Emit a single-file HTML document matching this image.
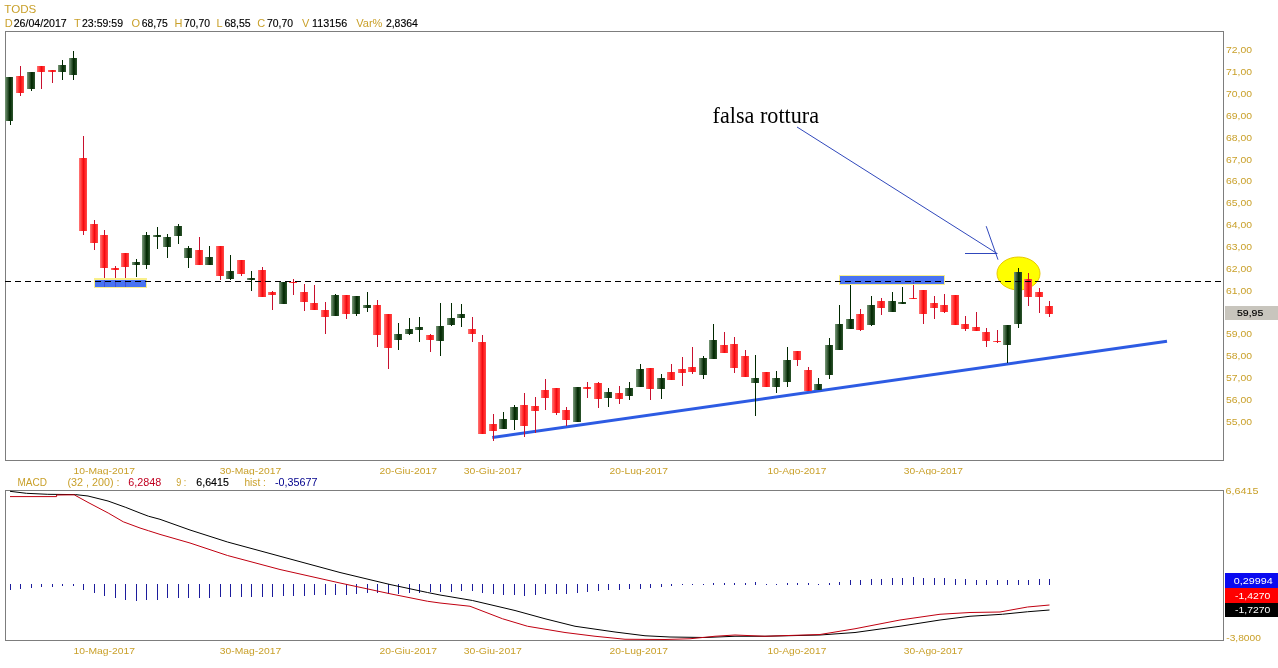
<!DOCTYPE html>
<html lang="it"><head><meta charset="utf-8"><title>TODS</title>
<style>
html,body{margin:0;padding:0;background:#fff;}
body{width:1278px;height:668px;overflow:hidden;position:relative;font-family:"Liberation Sans",Arial,sans-serif;}
svg{position:absolute;left:0;top:0;display:block}
text{font-family:"Liberation Sans",Arial,sans-serif;}
.g{fill:#c9a02a}
.k{fill:#000;stroke:#000;stroke-width:.15px}
.t11{font-size:11px}
.t10{font-size:9.6px}
</style></head><body>
<svg width="1278" height="668" viewBox="0 0 1278 668">
<defs>
<linearGradient id="gg" x1="0" y1="0" x2="1" y2="0">
<stop offset="0" stop-color="#7c9c7c"/><stop offset="0.6" stop-color="#002600"/><stop offset="1" stop-color="#2e562e"/>
</linearGradient>
<linearGradient id="rg" x1="0" y1="0" x2="1" y2="0">
<stop offset="0" stop-color="#ff7878"/><stop offset="0.55" stop-color="#ff0808"/><stop offset="1" stop-color="#ff4a4a"/>
</linearGradient>
</defs>
<rect x="0" y="0" width="1278" height="668" fill="#fff"/>

<g shape-rendering="crispEdges" fill="none" stroke="#7d7d7d" stroke-width="1">
<rect x="5.5" y="31.5" width="1218" height="429"/>
<rect x="5.5" y="490.5" width="1218" height="150"/>
</g>
<ellipse cx="1018.5" cy="273.5" rx="21.5" ry="16.5" fill="#ffff00" stroke="#e8c800" stroke-width="1"/>
<line x1="492.3" y1="437.6" x2="1167" y2="341.2" stroke="#2d5be3" stroke-width="3"/>
<g shape-rendering="crispEdges">
<rect x="10" y="77" width="1" height="48" fill="#002800"/>
<rect x="5" y="77" width="8" height="44" fill="url(#gg)"/>
<rect x="10" y="77" width="1" height="44" fill="#002800" fill-opacity="0.3"/>
<rect x="20" y="66" width="1" height="30" fill="#c8102e"/>
<rect x="16" y="76" width="8" height="17" fill="url(#rg)"/>
<rect x="20" y="76" width="1" height="17" fill="#c8102e" fill-opacity="0.3"/>
<rect x="31" y="72" width="1" height="19" fill="#002800"/>
<rect x="27" y="72" width="8" height="17" fill="url(#gg)"/>
<rect x="31" y="72" width="1" height="17" fill="#002800" fill-opacity="0.3"/>
<rect x="41" y="66" width="1" height="23" fill="#c8102e"/>
<rect x="37" y="66" width="8" height="6" fill="url(#rg)"/>
<rect x="41" y="66" width="1" height="6" fill="#c8102e" fill-opacity="0.3"/>
<rect x="52" y="70" width="1" height="13" fill="#c8102e"/>
<rect x="48" y="70" width="8" height="2" fill="url(#rg)"/>
<rect x="52" y="70" width="1" height="2" fill="#c8102e" fill-opacity="0.3"/>
<rect x="62" y="60" width="1" height="20" fill="#002800"/>
<rect x="58" y="65" width="8" height="7" fill="url(#gg)"/>
<rect x="62" y="65" width="1" height="7" fill="#002800" fill-opacity="0.3"/>
<rect x="73" y="51" width="1" height="29" fill="#002800"/>
<rect x="69" y="58" width="8" height="17" fill="url(#gg)"/>
<rect x="73" y="58" width="1" height="17" fill="#002800" fill-opacity="0.3"/>
<rect x="83" y="136" width="1" height="99" fill="#c8102e"/>
<rect x="79" y="158" width="8" height="73" fill="url(#rg)"/>
<rect x="83" y="158" width="1" height="73" fill="#c8102e" fill-opacity="0.3"/>
<rect x="94" y="220" width="1" height="30" fill="#c8102e"/>
<rect x="90" y="224" width="8" height="19" fill="url(#rg)"/>
<rect x="94" y="224" width="1" height="19" fill="#c8102e" fill-opacity="0.3"/>
<rect x="104" y="230" width="1" height="57" fill="#c8102e"/>
<rect x="100" y="235" width="8" height="33" fill="url(#rg)"/>
<rect x="104" y="235" width="1" height="33" fill="#c8102e" fill-opacity="0.3"/>
<rect x="115" y="266" width="1" height="21" fill="#c8102e"/>
<rect x="111" y="268" width="8" height="2" fill="url(#rg)"/>
<rect x="115" y="268" width="1" height="2" fill="#c8102e" fill-opacity="0.3"/>
<rect x="125" y="253" width="1" height="34" fill="#c8102e"/>
<rect x="121" y="253" width="8" height="14" fill="url(#rg)"/>
<rect x="125" y="253" width="1" height="14" fill="#c8102e" fill-opacity="0.3"/>
<rect x="136" y="259" width="1" height="18" fill="#002800"/>
<rect x="132" y="262" width="8" height="3" fill="url(#gg)"/>
<rect x="136" y="262" width="1" height="3" fill="#002800" fill-opacity="0.3"/>
<rect x="146" y="232" width="1" height="37" fill="#002800"/>
<rect x="142" y="235" width="8" height="30" fill="url(#gg)"/>
<rect x="146" y="235" width="1" height="30" fill="#002800" fill-opacity="0.3"/>
<rect x="157" y="227" width="1" height="22" fill="#002800"/>
<rect x="153" y="235" width="8" height="2" fill="url(#gg)"/>
<rect x="157" y="235" width="1" height="2" fill="#002800" fill-opacity="0.3"/>
<rect x="167" y="234" width="1" height="24" fill="#002800"/>
<rect x="163" y="237" width="8" height="10" fill="url(#gg)"/>
<rect x="167" y="237" width="1" height="10" fill="#002800" fill-opacity="0.3"/>
<rect x="178" y="224" width="1" height="20" fill="#002800"/>
<rect x="174" y="226" width="8" height="10" fill="url(#gg)"/>
<rect x="178" y="226" width="1" height="10" fill="#002800" fill-opacity="0.3"/>
<rect x="188" y="246" width="1" height="22" fill="#002800"/>
<rect x="184" y="248" width="8" height="10" fill="url(#gg)"/>
<rect x="188" y="248" width="1" height="10" fill="#002800" fill-opacity="0.3"/>
<rect x="199" y="237" width="1" height="28" fill="#c8102e"/>
<rect x="195" y="250" width="8" height="15" fill="url(#rg)"/>
<rect x="199" y="250" width="1" height="15" fill="#c8102e" fill-opacity="0.3"/>
<rect x="209" y="246" width="1" height="19" fill="#002800"/>
<rect x="205" y="257" width="8" height="8" fill="url(#gg)"/>
<rect x="209" y="257" width="1" height="8" fill="#002800" fill-opacity="0.3"/>
<rect x="220" y="246" width="1" height="34" fill="#c8102e"/>
<rect x="216" y="246" width="8" height="30" fill="url(#rg)"/>
<rect x="220" y="246" width="1" height="30" fill="#c8102e" fill-opacity="0.3"/>
<rect x="230" y="255" width="1" height="25" fill="#002800"/>
<rect x="226" y="271" width="8" height="8" fill="url(#gg)"/>
<rect x="230" y="271" width="1" height="8" fill="#002800" fill-opacity="0.3"/>
<rect x="241" y="260" width="1" height="16" fill="#c8102e"/>
<rect x="237" y="260" width="8" height="14" fill="url(#rg)"/>
<rect x="241" y="260" width="1" height="14" fill="#c8102e" fill-opacity="0.3"/>
<rect x="251" y="271" width="1" height="20" fill="#002800"/>
<rect x="247" y="278" width="8" height="2" fill="url(#gg)"/>
<rect x="251" y="278" width="1" height="2" fill="#002800" fill-opacity="0.3"/>
<rect x="262" y="267" width="1" height="30" fill="#c8102e"/>
<rect x="258" y="270" width="8" height="27" fill="url(#rg)"/>
<rect x="262" y="270" width="1" height="27" fill="#c8102e" fill-opacity="0.3"/>
<rect x="272" y="291" width="1" height="19" fill="#c8102e"/>
<rect x="268" y="292" width="8" height="3" fill="url(#rg)"/>
<rect x="272" y="292" width="1" height="3" fill="#c8102e" fill-opacity="0.3"/>
<rect x="279" y="282" width="8" height="22" fill="url(#gg)"/>
<rect x="293" y="279" width="1" height="16" fill="#c8102e"/>
<rect x="289" y="282" width="8" height="1" fill="url(#rg)"/>
<rect x="293" y="282" width="1" height="1" fill="#c8102e" fill-opacity="0.3"/>
<rect x="304" y="284" width="1" height="27" fill="#c8102e"/>
<rect x="300" y="292" width="8" height="10" fill="url(#rg)"/>
<rect x="304" y="292" width="1" height="10" fill="#c8102e" fill-opacity="0.3"/>
<rect x="314" y="285" width="1" height="25" fill="#c8102e"/>
<rect x="310" y="303" width="8" height="7" fill="url(#rg)"/>
<rect x="314" y="303" width="1" height="7" fill="#c8102e" fill-opacity="0.3"/>
<rect x="325" y="302" width="1" height="32" fill="#c8102e"/>
<rect x="321" y="310" width="8" height="7" fill="url(#rg)"/>
<rect x="325" y="310" width="1" height="7" fill="#c8102e" fill-opacity="0.3"/>
<rect x="335" y="294" width="1" height="22" fill="#002800"/>
<rect x="331" y="295" width="8" height="21" fill="url(#gg)"/>
<rect x="335" y="295" width="1" height="21" fill="#002800" fill-opacity="0.3"/>
<rect x="346" y="295" width="1" height="24" fill="#c8102e"/>
<rect x="342" y="295" width="8" height="19" fill="url(#rg)"/>
<rect x="346" y="295" width="1" height="19" fill="#c8102e" fill-opacity="0.3"/>
<rect x="356" y="296" width="1" height="20" fill="#002800"/>
<rect x="352" y="296" width="8" height="18" fill="url(#gg)"/>
<rect x="356" y="296" width="1" height="18" fill="#002800" fill-opacity="0.3"/>
<rect x="367" y="292" width="1" height="20" fill="#002800"/>
<rect x="363" y="305" width="8" height="3" fill="url(#gg)"/>
<rect x="367" y="305" width="1" height="3" fill="#002800" fill-opacity="0.3"/>
<rect x="377" y="300" width="1" height="47" fill="#c8102e"/>
<rect x="373" y="305" width="8" height="30" fill="url(#rg)"/>
<rect x="377" y="305" width="1" height="30" fill="#c8102e" fill-opacity="0.3"/>
<rect x="388" y="314" width="1" height="55" fill="#c8102e"/>
<rect x="384" y="314" width="8" height="34" fill="url(#rg)"/>
<rect x="388" y="314" width="1" height="34" fill="#c8102e" fill-opacity="0.3"/>
<rect x="398" y="323" width="1" height="27" fill="#002800"/>
<rect x="394" y="334" width="8" height="6" fill="url(#gg)"/>
<rect x="398" y="334" width="1" height="6" fill="#002800" fill-opacity="0.3"/>
<rect x="409" y="318" width="1" height="17" fill="#002800"/>
<rect x="405" y="329" width="8" height="5" fill="url(#gg)"/>
<rect x="409" y="329" width="1" height="5" fill="#002800" fill-opacity="0.3"/>
<rect x="419" y="317" width="1" height="25" fill="#002800"/>
<rect x="415" y="327" width="8" height="3" fill="url(#gg)"/>
<rect x="419" y="327" width="1" height="3" fill="#002800" fill-opacity="0.3"/>
<rect x="430" y="334" width="1" height="18" fill="#c8102e"/>
<rect x="426" y="335" width="8" height="5" fill="url(#rg)"/>
<rect x="430" y="335" width="1" height="5" fill="#c8102e" fill-opacity="0.3"/>
<rect x="440" y="303" width="1" height="53" fill="#002800"/>
<rect x="436" y="326" width="8" height="15" fill="url(#gg)"/>
<rect x="440" y="326" width="1" height="15" fill="#002800" fill-opacity="0.3"/>
<rect x="451" y="303" width="1" height="23" fill="#002800"/>
<rect x="447" y="318" width="8" height="7" fill="url(#gg)"/>
<rect x="451" y="318" width="1" height="7" fill="#002800" fill-opacity="0.3"/>
<rect x="461" y="304" width="1" height="23" fill="#002800"/>
<rect x="457" y="314" width="8" height="4" fill="url(#gg)"/>
<rect x="461" y="314" width="1" height="4" fill="#002800" fill-opacity="0.3"/>
<rect x="472" y="317" width="1" height="25" fill="#c8102e"/>
<rect x="468" y="329" width="8" height="5" fill="url(#rg)"/>
<rect x="472" y="329" width="1" height="5" fill="#c8102e" fill-opacity="0.3"/>
<rect x="482" y="335" width="1" height="99" fill="#c8102e"/>
<rect x="478" y="342" width="8" height="92" fill="url(#rg)"/>
<rect x="482" y="342" width="1" height="92" fill="#c8102e" fill-opacity="0.3"/>
<rect x="493" y="414" width="1" height="27" fill="#c8102e"/>
<rect x="489" y="424" width="8" height="7" fill="url(#rg)"/>
<rect x="493" y="424" width="1" height="7" fill="#c8102e" fill-opacity="0.3"/>
<rect x="503" y="412" width="1" height="17" fill="#002800"/>
<rect x="499" y="419" width="8" height="10" fill="url(#gg)"/>
<rect x="503" y="419" width="1" height="10" fill="#002800" fill-opacity="0.3"/>
<rect x="514" y="405" width="1" height="25" fill="#002800"/>
<rect x="510" y="407" width="8" height="13" fill="url(#gg)"/>
<rect x="514" y="407" width="1" height="13" fill="#002800" fill-opacity="0.3"/>
<rect x="524" y="393" width="1" height="44" fill="#c8102e"/>
<rect x="520" y="405" width="8" height="21" fill="url(#rg)"/>
<rect x="524" y="405" width="1" height="21" fill="#c8102e" fill-opacity="0.3"/>
<rect x="535" y="397" width="1" height="36" fill="#c8102e"/>
<rect x="531" y="406" width="8" height="5" fill="url(#rg)"/>
<rect x="535" y="406" width="1" height="5" fill="#c8102e" fill-opacity="0.3"/>
<rect x="545" y="379" width="1" height="31" fill="#c8102e"/>
<rect x="541" y="390" width="8" height="8" fill="url(#rg)"/>
<rect x="545" y="390" width="1" height="8" fill="#c8102e" fill-opacity="0.3"/>
<rect x="556" y="388" width="1" height="27" fill="#c8102e"/>
<rect x="552" y="388" width="8" height="25" fill="url(#rg)"/>
<rect x="556" y="388" width="1" height="25" fill="#c8102e" fill-opacity="0.3"/>
<rect x="566" y="407" width="1" height="19" fill="#c8102e"/>
<rect x="562" y="410" width="8" height="10" fill="url(#rg)"/>
<rect x="566" y="410" width="1" height="10" fill="#c8102e" fill-opacity="0.3"/>
<rect x="573" y="387" width="8" height="35" fill="url(#gg)"/>
<rect x="587" y="382" width="1" height="16" fill="#c8102e"/>
<rect x="583" y="387" width="8" height="2" fill="url(#rg)"/>
<rect x="587" y="387" width="1" height="2" fill="#c8102e" fill-opacity="0.3"/>
<rect x="598" y="382" width="1" height="26" fill="#c8102e"/>
<rect x="594" y="383" width="8" height="16" fill="url(#rg)"/>
<rect x="598" y="383" width="1" height="16" fill="#c8102e" fill-opacity="0.3"/>
<rect x="608" y="388" width="1" height="19" fill="#002800"/>
<rect x="604" y="392" width="8" height="6" fill="url(#gg)"/>
<rect x="608" y="392" width="1" height="6" fill="#002800" fill-opacity="0.3"/>
<rect x="619" y="386" width="1" height="18" fill="#c8102e"/>
<rect x="615" y="393" width="8" height="6" fill="url(#rg)"/>
<rect x="619" y="393" width="1" height="6" fill="#c8102e" fill-opacity="0.3"/>
<rect x="629" y="382" width="1" height="18" fill="#002800"/>
<rect x="625" y="388" width="8" height="8" fill="url(#gg)"/>
<rect x="629" y="388" width="1" height="8" fill="#002800" fill-opacity="0.3"/>
<rect x="640" y="364" width="1" height="23" fill="#002800"/>
<rect x="636" y="369" width="8" height="18" fill="url(#gg)"/>
<rect x="640" y="369" width="1" height="18" fill="#002800" fill-opacity="0.3"/>
<rect x="650" y="368" width="1" height="32" fill="#c8102e"/>
<rect x="646" y="368" width="8" height="21" fill="url(#rg)"/>
<rect x="650" y="368" width="1" height="21" fill="#c8102e" fill-opacity="0.3"/>
<rect x="661" y="374" width="1" height="25" fill="#002800"/>
<rect x="657" y="378" width="8" height="11" fill="url(#gg)"/>
<rect x="661" y="378" width="1" height="11" fill="#002800" fill-opacity="0.3"/>
<rect x="671" y="364" width="1" height="16" fill="#c8102e"/>
<rect x="667" y="372" width="8" height="8" fill="url(#rg)"/>
<rect x="671" y="372" width="1" height="8" fill="#c8102e" fill-opacity="0.3"/>
<rect x="682" y="357" width="1" height="29" fill="#c8102e"/>
<rect x="678" y="369" width="8" height="4" fill="url(#rg)"/>
<rect x="682" y="369" width="1" height="4" fill="#c8102e" fill-opacity="0.3"/>
<rect x="692" y="347" width="1" height="27" fill="#c8102e"/>
<rect x="688" y="367" width="8" height="5" fill="url(#rg)"/>
<rect x="692" y="367" width="1" height="5" fill="#c8102e" fill-opacity="0.3"/>
<rect x="703" y="356" width="1" height="23" fill="#002800"/>
<rect x="699" y="358" width="8" height="17" fill="url(#gg)"/>
<rect x="703" y="358" width="1" height="17" fill="#002800" fill-opacity="0.3"/>
<rect x="713" y="324" width="1" height="35" fill="#002800"/>
<rect x="709" y="340" width="8" height="19" fill="url(#gg)"/>
<rect x="713" y="340" width="1" height="19" fill="#002800" fill-opacity="0.3"/>
<rect x="724" y="332" width="1" height="21" fill="#c8102e"/>
<rect x="720" y="345" width="8" height="8" fill="url(#rg)"/>
<rect x="724" y="345" width="1" height="8" fill="#c8102e" fill-opacity="0.3"/>
<rect x="734" y="337" width="1" height="36" fill="#c8102e"/>
<rect x="730" y="344" width="8" height="24" fill="url(#rg)"/>
<rect x="734" y="344" width="1" height="24" fill="#c8102e" fill-opacity="0.3"/>
<rect x="745" y="350" width="1" height="27" fill="#c8102e"/>
<rect x="741" y="356" width="8" height="21" fill="url(#rg)"/>
<rect x="745" y="356" width="1" height="21" fill="#c8102e" fill-opacity="0.3"/>
<rect x="755" y="355" width="1" height="61" fill="#002800"/>
<rect x="751" y="378" width="8" height="5" fill="url(#gg)"/>
<rect x="755" y="378" width="1" height="5" fill="#002800" fill-opacity="0.3"/>
<rect x="762" y="372" width="8" height="15" fill="url(#rg)"/>
<rect x="776" y="371" width="1" height="22" fill="#002800"/>
<rect x="772" y="378" width="8" height="9" fill="url(#gg)"/>
<rect x="776" y="378" width="1" height="9" fill="#002800" fill-opacity="0.3"/>
<rect x="787" y="347" width="1" height="40" fill="#002800"/>
<rect x="783" y="360" width="8" height="22" fill="url(#gg)"/>
<rect x="787" y="360" width="1" height="22" fill="#002800" fill-opacity="0.3"/>
<rect x="797" y="351" width="1" height="15" fill="#c8102e"/>
<rect x="793" y="351" width="8" height="9" fill="url(#rg)"/>
<rect x="797" y="351" width="1" height="9" fill="#c8102e" fill-opacity="0.3"/>
<rect x="808" y="367" width="1" height="24" fill="#c8102e"/>
<rect x="804" y="370" width="8" height="21" fill="url(#rg)"/>
<rect x="808" y="370" width="1" height="21" fill="#c8102e" fill-opacity="0.3"/>
<rect x="818" y="378" width="1" height="12" fill="#002800"/>
<rect x="814" y="384" width="8" height="6" fill="url(#gg)"/>
<rect x="818" y="384" width="1" height="6" fill="#002800" fill-opacity="0.3"/>
<rect x="829" y="338" width="1" height="41" fill="#002800"/>
<rect x="825" y="345" width="8" height="30" fill="url(#gg)"/>
<rect x="829" y="345" width="1" height="30" fill="#002800" fill-opacity="0.3"/>
<rect x="839" y="305" width="1" height="45" fill="#002800"/>
<rect x="835" y="324" width="8" height="26" fill="url(#gg)"/>
<rect x="839" y="324" width="1" height="26" fill="#002800" fill-opacity="0.3"/>
<rect x="850" y="285" width="1" height="44" fill="#002800"/>
<rect x="846" y="319" width="8" height="10" fill="url(#gg)"/>
<rect x="850" y="319" width="1" height="10" fill="#002800" fill-opacity="0.3"/>
<rect x="860" y="309" width="1" height="22" fill="#c8102e"/>
<rect x="856" y="314" width="8" height="16" fill="url(#rg)"/>
<rect x="860" y="314" width="1" height="16" fill="#c8102e" fill-opacity="0.3"/>
<rect x="871" y="296" width="1" height="30" fill="#002800"/>
<rect x="867" y="305" width="8" height="20" fill="url(#gg)"/>
<rect x="871" y="305" width="1" height="20" fill="#002800" fill-opacity="0.3"/>
<rect x="881" y="298" width="1" height="17" fill="#c8102e"/>
<rect x="877" y="301" width="8" height="7" fill="url(#rg)"/>
<rect x="881" y="301" width="1" height="7" fill="#c8102e" fill-opacity="0.3"/>
<rect x="892" y="292" width="1" height="20" fill="#002800"/>
<rect x="888" y="301" width="8" height="11" fill="url(#gg)"/>
<rect x="892" y="301" width="1" height="11" fill="#002800" fill-opacity="0.3"/>
<rect x="902" y="287" width="1" height="17" fill="#002800"/>
<rect x="898" y="302" width="8" height="2" fill="url(#gg)"/>
<rect x="902" y="302" width="1" height="2" fill="#002800" fill-opacity="0.3"/>
<rect x="913" y="280" width="1" height="19" fill="#c8102e"/>
<rect x="909" y="298" width="8" height="1" fill="url(#rg)"/>
<rect x="913" y="298" width="1" height="1" fill="#c8102e" fill-opacity="0.3"/>
<rect x="923" y="290" width="1" height="34" fill="#c8102e"/>
<rect x="919" y="290" width="8" height="24" fill="url(#rg)"/>
<rect x="923" y="290" width="1" height="24" fill="#c8102e" fill-opacity="0.3"/>
<rect x="934" y="296" width="1" height="23" fill="#c8102e"/>
<rect x="930" y="303" width="8" height="5" fill="url(#rg)"/>
<rect x="934" y="303" width="1" height="5" fill="#c8102e" fill-opacity="0.3"/>
<rect x="944" y="294" width="1" height="19" fill="#c8102e"/>
<rect x="940" y="305" width="8" height="7" fill="url(#rg)"/>
<rect x="944" y="305" width="1" height="7" fill="#c8102e" fill-opacity="0.3"/>
<rect x="951" y="295" width="8" height="30" fill="url(#rg)"/>
<rect x="965" y="316" width="1" height="15" fill="#c8102e"/>
<rect x="961" y="324" width="8" height="5" fill="url(#rg)"/>
<rect x="965" y="324" width="1" height="5" fill="#c8102e" fill-opacity="0.3"/>
<rect x="976" y="312" width="1" height="19" fill="#c8102e"/>
<rect x="972" y="327" width="8" height="4" fill="url(#rg)"/>
<rect x="976" y="327" width="1" height="4" fill="#c8102e" fill-opacity="0.3"/>
<rect x="986" y="328" width="1" height="19" fill="#c8102e"/>
<rect x="982" y="332" width="8" height="9" fill="url(#rg)"/>
<rect x="986" y="332" width="1" height="9" fill="#c8102e" fill-opacity="0.3"/>
<rect x="997" y="330" width="1" height="13" fill="#c8102e"/>
<rect x="993" y="341" width="8" height="1" fill="url(#rg)"/>
<rect x="997" y="341" width="1" height="1" fill="#c8102e" fill-opacity="0.3"/>
<rect x="1007" y="325" width="1" height="38" fill="#002800"/>
<rect x="1003" y="325" width="8" height="20" fill="url(#gg)"/>
<rect x="1007" y="325" width="1" height="20" fill="#002800" fill-opacity="0.3"/>
<rect x="1018" y="268" width="1" height="60" fill="#002800"/>
<rect x="1014" y="272" width="8" height="52" fill="url(#gg)"/>
<rect x="1018" y="272" width="1" height="52" fill="#002800" fill-opacity="0.3"/>
<rect x="1028" y="273" width="1" height="33" fill="#c8102e"/>
<rect x="1024" y="279" width="8" height="18" fill="url(#rg)"/>
<rect x="1028" y="279" width="1" height="18" fill="#c8102e" fill-opacity="0.3"/>
<rect x="1039" y="288" width="1" height="25" fill="#c8102e"/>
<rect x="1035" y="292" width="8" height="5" fill="url(#rg)"/>
<rect x="1039" y="292" width="1" height="5" fill="#c8102e" fill-opacity="0.3"/>
<rect x="1049" y="301" width="1" height="16" fill="#c8102e"/>
<rect x="1045" y="306" width="8" height="8" fill="url(#rg)"/>
<rect x="1049" y="306" width="1" height="8" fill="#c8102e" fill-opacity="0.3"/>
</g>
<g shape-rendering="crispEdges">
<path fill-rule="evenodd" fill="#f9f08c" d="M94 278h53v10h-53z M95 280h51v7h-51z"/>
<rect x="95" y="280" width="51" height="7" fill="#2b5cf0" fill-opacity="0.86"/>
<path fill-rule="evenodd" fill="#f9f08c" d="M839 275h106v10h-106z M840 276h104v8h-104z"/>
<rect x="840" y="276" width="104" height="8" fill="#2b5cf0" fill-opacity="0.86"/>
</g>
<line x1="5" y1="281.5" x2="1221" y2="281.5" stroke="#000" stroke-width="1" stroke-dasharray="6 4" shape-rendering="crispEdges"/>
<g stroke="#3048bc" stroke-width="1" fill="none">
<line x1="797" y1="127" x2="997" y2="253.5"/>
<line x1="965" y1="253.5" x2="997.5" y2="253.5"/>
<line x1="986.2" y1="226.2" x2="998" y2="259.7"/>
</g>
<text x="712.6" y="122.9" textLength="106.4" lengthAdjust="spacingAndGlyphs" style="font-family:'Liberation Serif','Times New Roman',serif;font-size:23.3px" fill="#000">falsa rottura</text>
<text x="4.3" y="12.6" class="g t11" textLength="32" lengthAdjust="spacingAndGlyphs">TODS</text>
<text x="4.7" y="27" class="g t11">D</text>
<text x="13.7" y="27" class="k t11" textLength="53" lengthAdjust="spacingAndGlyphs">26/04/2017</text>
<text x="74" y="27" class="g t11">T</text>
<text x="82" y="27" class="k t11" textLength="41" lengthAdjust="spacingAndGlyphs">23:59:59</text>
<text x="131.5" y="27" class="g t11">O</text>
<text x="141.8" y="27" class="k t11" textLength="26" lengthAdjust="spacingAndGlyphs">68,75</text>
<text x="174.6" y="27" class="g t11">H</text>
<text x="184" y="27" class="k t11" textLength="26" lengthAdjust="spacingAndGlyphs">70,70</text>
<text x="216.5" y="27" class="g t11">L</text>
<text x="224.4" y="27" class="k t11" textLength="26.3" lengthAdjust="spacingAndGlyphs">68,55</text>
<text x="257.3" y="27" class="g t11">C</text>
<text x="267" y="27" class="k t11" textLength="26" lengthAdjust="spacingAndGlyphs">70,70</text>
<text x="302" y="27" class="g t11">V</text>
<text x="312.1" y="27" class="k t11" textLength="35" lengthAdjust="spacingAndGlyphs">113156</text>
<text x="356.2" y="27" class="g t11" textLength="26.3" lengthAdjust="spacingAndGlyphs">Var%</text>
<text x="385.9" y="27" class="k t11" textLength="32" lengthAdjust="spacingAndGlyphs">2,8364</text>
<text x="1226" y="53.0" class="g t10" textLength="26" lengthAdjust="spacingAndGlyphs">72,00</text>
<text x="1226" y="75.0" class="g t10" textLength="26" lengthAdjust="spacingAndGlyphs">71,00</text>
<text x="1226" y="97.0" class="g t10" textLength="26" lengthAdjust="spacingAndGlyphs">70,00</text>
<text x="1226" y="118.5" class="g t10" textLength="26" lengthAdjust="spacingAndGlyphs">69,00</text>
<text x="1226" y="140.5" class="g t10" textLength="26" lengthAdjust="spacingAndGlyphs">68,00</text>
<text x="1226" y="162.5" class="g t10" textLength="26" lengthAdjust="spacingAndGlyphs">67,00</text>
<text x="1226" y="184.0" class="g t10" textLength="26" lengthAdjust="spacingAndGlyphs">66,00</text>
<text x="1226" y="206.0" class="g t10" textLength="26" lengthAdjust="spacingAndGlyphs">65,00</text>
<text x="1226" y="228.0" class="g t10" textLength="26" lengthAdjust="spacingAndGlyphs">64,00</text>
<text x="1226" y="250.0" class="g t10" textLength="26" lengthAdjust="spacingAndGlyphs">63,00</text>
<text x="1226" y="271.5" class="g t10" textLength="26" lengthAdjust="spacingAndGlyphs">62,00</text>
<text x="1226" y="293.5" class="g t10" textLength="26" lengthAdjust="spacingAndGlyphs">61,00</text>
<text x="1226" y="337.0" class="g t10" textLength="26" lengthAdjust="spacingAndGlyphs">59,00</text>
<text x="1226" y="359.0" class="g t10" textLength="26" lengthAdjust="spacingAndGlyphs">58,00</text>
<text x="1226" y="381.0" class="g t10" textLength="26" lengthAdjust="spacingAndGlyphs">57,00</text>
<text x="1226" y="402.5" class="g t10" textLength="26" lengthAdjust="spacingAndGlyphs">56,00</text>
<text x="1226" y="424.5" class="g t10" textLength="26" lengthAdjust="spacingAndGlyphs">55,00</text>
<rect x="1225" y="306" width="53" height="14" fill="#c8c5bd" shape-rendering="crispEdges"/>
<text x="1237" y="316" class="k t10" textLength="26.3" lengthAdjust="spacingAndGlyphs">59,95</text>
<clipPath id="cp"><rect x="0" y="460" width="1278" height="15"/></clipPath>
<g clip-path="url(#cp)">
<text x="73.5" y="474" class="g t10" textLength="61.5" lengthAdjust="spacingAndGlyphs">10-Mag-2017</text>
<text x="219.8" y="474" class="g t10" textLength="61.5" lengthAdjust="spacingAndGlyphs">30-Mag-2017</text>
<text x="379.5" y="474" class="g t10" textLength="57.5" lengthAdjust="spacingAndGlyphs">20-Giu-2017</text>
<text x="463.8" y="474" class="g t10" textLength="58" lengthAdjust="spacingAndGlyphs">30-Giu-2017</text>
<text x="609.5" y="474" class="g t10" textLength="58.5" lengthAdjust="spacingAndGlyphs">20-Lug-2017</text>
<text x="767.5" y="474" class="g t10" textLength="58.8" lengthAdjust="spacingAndGlyphs">10-Ago-2017</text>
<text x="903.8" y="474" class="g t10" textLength="59.2" lengthAdjust="spacingAndGlyphs">30-Ago-2017</text>
</g>
<text x="73.5" y="654" class="g t10" textLength="61.5" lengthAdjust="spacingAndGlyphs">10-Mag-2017</text>
<text x="219.8" y="654" class="g t10" textLength="61.5" lengthAdjust="spacingAndGlyphs">30-Mag-2017</text>
<text x="379.5" y="654" class="g t10" textLength="57.5" lengthAdjust="spacingAndGlyphs">20-Giu-2017</text>
<text x="463.8" y="654" class="g t10" textLength="58" lengthAdjust="spacingAndGlyphs">30-Giu-2017</text>
<text x="609.5" y="654" class="g t10" textLength="58.5" lengthAdjust="spacingAndGlyphs">20-Lug-2017</text>
<text x="767.5" y="654" class="g t10" textLength="58.8" lengthAdjust="spacingAndGlyphs">10-Ago-2017</text>
<text x="903.8" y="654" class="g t10" textLength="59.2" lengthAdjust="spacingAndGlyphs">30-Ago-2017</text>
<text x="17.5" y="486.3" class="g t11" textLength="29.5" lengthAdjust="spacingAndGlyphs">MACD</text>
<text x="67.5" y="486.3" class="g t11" textLength="52" lengthAdjust="spacingAndGlyphs">(32 , 200) :</text>
<text x="128.3" y="486.3" class="t11" fill="#c00020" textLength="33" lengthAdjust="spacingAndGlyphs">6,2848</text>
<text x="176.3" y="486.3" class="g t11" textLength="10" lengthAdjust="spacingAndGlyphs">9 :</text>
<text x="196.3" y="486.3" class="k t11" textLength="32.5" lengthAdjust="spacingAndGlyphs">6,6415</text>
<text x="244.5" y="486.3" class="g t11" textLength="21.3" lengthAdjust="spacingAndGlyphs">hist :</text>
<text x="275" y="486.3" class="t11" fill="#00008c" textLength="42.5" lengthAdjust="spacingAndGlyphs">-0,35677</text>
<text x="1225.5" y="493.8" class="g t10" textLength="33" lengthAdjust="spacingAndGlyphs">6,6415</text>
<text x="1226.3" y="641.2" class="g t10" textLength="34.6" lengthAdjust="spacingAndGlyphs">-3,8000</text>
<g shape-rendering="crispEdges">
<rect x="1225" y="573" width="53" height="15" fill="#0a0af0"/>
<rect x="1225" y="588" width="53" height="15" fill="#ff0000"/>
<rect x="1225" y="603" width="53" height="14" fill="#000"/>
</g>
<g fill="#fff" class="t10">
<text x="1233.8" y="584" textLength="39" lengthAdjust="spacingAndGlyphs" fill="#fff">0,29994</text>
<text x="1235" y="599" textLength="35.3" lengthAdjust="spacingAndGlyphs" fill="#fff">-1,4270</text>
<text x="1235" y="613" textLength="35.3" lengthAdjust="spacingAndGlyphs" fill="#fff">-1,7270</text>
</g>
<g shape-rendering="crispEdges" fill="#1c1c9c">
<rect x="10" y="584" width="1" height="6"/>
<rect x="20" y="584" width="1" height="5"/>
<rect x="31" y="584" width="1" height="4"/>
<rect x="41" y="584" width="1" height="3"/>
<rect x="52" y="584" width="1" height="3"/>
<rect x="62" y="584" width="1" height="2"/>
<rect x="73" y="584" width="1" height="2"/>
<rect x="83" y="584" width="1" height="6"/>
<rect x="94" y="584" width="1" height="9"/>
<rect x="104" y="584" width="1" height="12"/>
<rect x="115" y="584" width="1" height="14"/>
<rect x="125" y="584" width="1" height="16"/>
<rect x="136" y="584" width="1" height="17"/>
<rect x="146" y="584" width="1" height="16"/>
<rect x="157" y="584" width="1" height="16"/>
<rect x="167" y="584" width="1" height="14"/>
<rect x="178" y="584" width="1" height="14"/>
<rect x="188" y="584" width="1" height="14"/>
<rect x="199" y="584" width="1" height="14"/>
<rect x="209" y="584" width="1" height="14"/>
<rect x="220" y="584" width="1" height="13"/>
<rect x="230" y="584" width="1" height="13"/>
<rect x="241" y="584" width="1" height="13"/>
<rect x="251" y="584" width="1" height="13"/>
<rect x="262" y="584" width="1" height="13"/>
<rect x="272" y="584" width="1" height="13"/>
<rect x="283" y="584" width="1" height="12"/>
<rect x="293" y="584" width="1" height="12"/>
<rect x="304" y="584" width="1" height="12"/>
<rect x="314" y="584" width="1" height="11"/>
<rect x="325" y="584" width="1" height="11"/>
<rect x="335" y="584" width="1" height="11"/>
<rect x="346" y="584" width="1" height="11"/>
<rect x="356" y="584" width="1" height="10"/>
<rect x="367" y="584" width="1" height="9"/>
<rect x="377" y="584" width="1" height="9"/>
<rect x="388" y="584" width="1" height="10"/>
<rect x="398" y="584" width="1" height="10"/>
<rect x="409" y="584" width="1" height="9"/>
<rect x="419" y="584" width="1" height="9"/>
<rect x="430" y="584" width="1" height="8"/>
<rect x="440" y="584" width="1" height="8"/>
<rect x="451" y="584" width="1" height="8"/>
<rect x="461" y="584" width="1" height="7"/>
<rect x="472" y="584" width="1" height="7"/>
<rect x="482" y="584" width="1" height="9"/>
<rect x="493" y="584" width="1" height="10"/>
<rect x="503" y="584" width="1" height="11"/>
<rect x="514" y="584" width="1" height="11"/>
<rect x="524" y="584" width="1" height="12"/>
<rect x="535" y="584" width="1" height="11"/>
<rect x="545" y="584" width="1" height="10"/>
<rect x="556" y="584" width="1" height="10"/>
<rect x="566" y="584" width="1" height="10"/>
<rect x="577" y="584" width="1" height="9"/>
<rect x="587" y="584" width="1" height="8"/>
<rect x="598" y="584" width="1" height="7"/>
<rect x="608" y="584" width="1" height="6"/>
<rect x="619" y="584" width="1" height="6"/>
<rect x="629" y="584" width="1" height="5"/>
<rect x="640" y="584" width="1" height="5"/>
<rect x="650" y="584" width="1" height="4"/>
<rect x="661" y="584" width="1" height="3"/>
<rect x="671" y="584" width="1" height="2"/>
<rect x="682" y="584" width="1" height="1"/>
<rect x="692" y="584" width="1" height="1"/>
<rect x="703" y="584" width="1" height="1"/>
<rect x="713" y="583" width="1" height="2"/>
<rect x="724" y="583" width="1" height="2"/>
<rect x="734" y="583" width="1" height="2"/>
<rect x="745" y="583" width="1" height="2"/>
<rect x="755" y="582" width="1" height="3"/>
<rect x="766" y="584" width="1" height="1"/>
<rect x="776" y="584" width="1" height="1"/>
<rect x="787" y="583" width="1" height="2"/>
<rect x="797" y="583" width="1" height="2"/>
<rect x="808" y="583" width="1" height="2"/>
<rect x="818" y="584" width="1" height="1"/>
<rect x="829" y="583" width="1" height="2"/>
<rect x="839" y="582" width="1" height="3"/>
<rect x="850" y="580" width="1" height="5"/>
<rect x="860" y="580" width="1" height="5"/>
<rect x="871" y="579" width="1" height="6"/>
<rect x="881" y="579" width="1" height="6"/>
<rect x="892" y="578" width="1" height="7"/>
<rect x="902" y="578" width="1" height="7"/>
<rect x="913" y="577" width="1" height="8"/>
<rect x="923" y="578" width="1" height="7"/>
<rect x="934" y="578" width="1" height="7"/>
<rect x="944" y="578" width="1" height="7"/>
<rect x="955" y="579" width="1" height="6"/>
<rect x="965" y="579" width="1" height="6"/>
<rect x="976" y="580" width="1" height="5"/>
<rect x="986" y="580" width="1" height="5"/>
<rect x="997" y="580" width="1" height="5"/>
<rect x="1007" y="580" width="1" height="5"/>
<rect x="1018" y="580" width="1" height="5"/>
<rect x="1028" y="580" width="1" height="5"/>
<rect x="1039" y="579" width="1" height="6"/>
<rect x="1049" y="579" width="1" height="6"/>
</g>
<polyline points="10,491.3 26.4,493.3 47.8,494.3 75.5,494.6 88,496 108,501 125.8,507.4 140,513 148.4,516.2 160,519.3 190,530 227.5,542 280,556.25 340,572.5 390,584.5 427.5,592.5 440,595 472.5,600.5 515,610.5 545,618.75 575,626.25 615,632 645,635.75 670,637 705,637.5 735,636.25 765,636.25 820,635 855,632.5 900,626.25 940,620 970,616.25 1002.5,614.25 1027.5,611.75 1049.5,610" fill="none" stroke="#000" stroke-width="1"/>
<polyline points="10,496.6 56.6,496.6 56.6,495 74.2,494.8 88,502.4 108.2,513 123.3,521.8 140,528 148.4,530.7 160,534.4 190,543 227.5,555.5 280,569.5 340,583 390,593.75 427.5,601.25 440,603 470,606.25 502.5,618.75 527.5,626.25 565,632.5 595,636.25 625,639.25 665,639.5 690,638.75 715,636.25 735,635 765,636.25 820,634.5 855,628.75 900,620 940,614.25 970,612.5 1000,612 1027.5,607 1049.5,605" fill="none" stroke="#c00010" stroke-width="1"/>
</svg></body></html>
